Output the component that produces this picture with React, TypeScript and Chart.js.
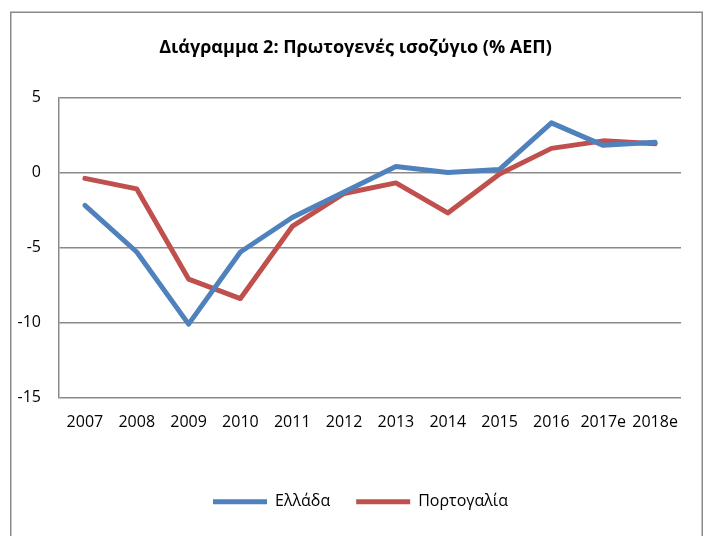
import React, { useEffect, useRef } from "react";
import { Chart, registerables } from "chart.js";

Chart.register(...registerables);

const categories = ["2007", "2008", "2009", "2010", "2011", "2012", "2013", "2014", "2015", "2016", "2017e", "2018e"];
const greece = [-2.2, -5.3, -10.1, -5.3, -3.0, -1.3, 0.4, 0.0, 0.2, 3.3, 1.8, 2.0];
const portugal = [-0.4, -1.1, -7.1, -8.4, -3.6, -1.4, -0.7, -2.7, -0.1, 1.6, 2.1, 1.9];
const seriesNames = ["Ελλάδα", "Πορτογαλία"];
const titleText = "Διάγραμμα 2: Πρωτογενές ισοζύγιο (% ΑΕΠ)";
const yMin = -15;
const yMax = 5;
const yStep = 5;

const FONT = "'Open Sans', 'Noto Sans', sans-serif";

const frame = {
  id: "frame",
  afterLayout(chart: any) {
    if (chart.legend) {
      chart.legend.left += 20;
      chart.legend.right += 20;
    }
    if (chart.titleBlock) {
      chart.titleBlock.left += 15;
      chart.titleBlock.right += 15;
    }
  },
  beforeDraw(chart: any) {
    const ctx = chart.ctx;
    ctx.save();
    ctx.fillStyle = "#ffffff";
    ctx.fillRect(0, 0, chart.width, chart.height);
    ctx.strokeStyle = "#8a8a8a";
    ctx.lineWidth = 1.5;
    ctx.strokeRect(10.75, 12.25, 691.5, 600);
    ctx.restore();
  },
};

export default function App() {
  const ref = useRef<HTMLCanvasElement | null>(null);
  useEffect(() => {
    if (!ref.current) return;
    const chart = new Chart(ref.current, {
      type: "line",
      data: {
        labels: categories,
        datasets: [
          {
            label: seriesNames[0],
            data: greece,
            borderColor: "#4F81BD",
            backgroundColor: "#4F81BD",
            borderWidth: 5,
            pointRadius: 0,
            tension: 0,
            borderJoinStyle: "round",
            borderCapStyle: "round",
          },
          {
            label: seriesNames[1],
            data: portugal,
            borderColor: "#C0504D",
            backgroundColor: "#C0504D",
            borderWidth: 5,
            pointRadius: 0,
            tension: 0,
            borderJoinStyle: "round",
            borderCapStyle: "round",
          },
        ],
      },
      options: {
        responsive: false,
        animation: false,
        layout: { padding: { left: 0, right: 26, top: 0, bottom: 16.3 } },
        plugins: {
          title: {
            display: true,
            text: titleText,
            color: "#000",
            font: { family: FONT, size: 18, weight: "bold" },
            padding: { top: 37, bottom: 38.7 },
          },
          legend: {
            position: "bottom",
            labels: {
              color: "#000",
              font: { family: FONT, size: 16 },
              boxWidth: 54,
              boxHeight: 5,
              padding: 26,
              useBorderRadius: true,
              borderRadius: 2.5,
              generateLabels: (c: any) =>
                c.data.datasets.map((d: any, i: number) => ({
                  text: d.label,
                  fillStyle: d.borderColor,
                  strokeStyle: d.borderColor,
                  lineWidth: 0,
                  fontColor: "#000",
                  datasetIndex: i,
                  hidden: false,
                })),
            },
          },
          tooltip: { enabled: false },
        },
        scales: {
          x: {
            offset: true,
            grid: { display: false, drawTicks: false },
            border: { display: false },
            ticks: {
              color: "#000",
              font: { family: FONT, size: 16 },
              padding: 15,
              maxRotation: 0,
              autoSkip: false,
            },
            afterFit: (s: any) => {
              s.height = 70;
            },
          },
          y: {
            min: yMin,
            max: yMax,
            grid: { color: "#8a8a8a", lineWidth: 1.5, drawTicks: false },
            border: { display: true, color: "#8a8a8a", width: 1.5 },
            ticks: {
              stepSize: yStep,
              color: "#000",
              font: { family: FONT, size: 16 },
              padding: 18,
            },
            afterFit: (s: any) => {
              s.width = 59;
            },
          },
        },
      },
      plugins: [frame],
    });
    return () => chart.destroy();
  }, []);
  return (
    <div style={{ position: "fixed", left: 0, top: 0, width: 707, height: 536 }}>
      <canvas ref={ref} width={707} height={536} />
    </div>
  );
}
